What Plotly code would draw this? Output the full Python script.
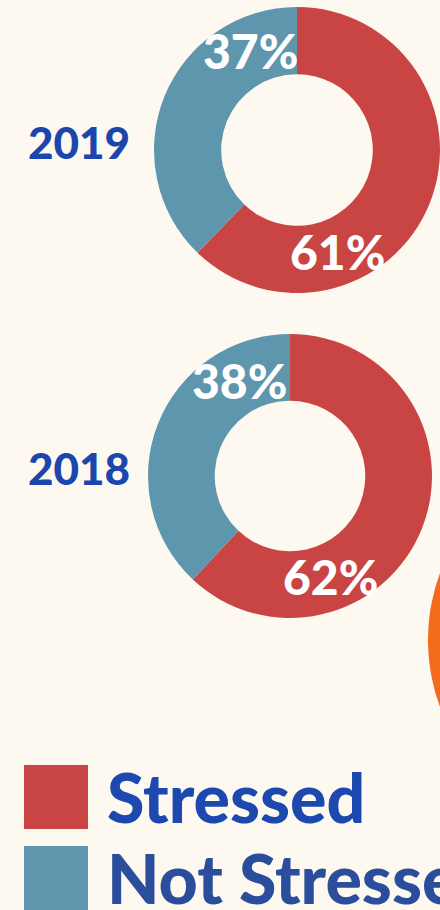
import math
import plotly.graph_objects as go

# Survey results by year
years = ["2019", "2018"]
categories = ["Stressed", "Not Stressed"]
stressed = [61, 62]
not_stressed = [37, 38]

colors = ["#c94543", "#5e96ae"]
W, H = 440, 910
BG = "#fdf9f0"
FONT = "Lato"

# donut geometry in pixels (center x, center y, outer radius)
donut_geom = [(297, 150, 143), (290, 476, 142)]
hole = 0.53
# angle (deg, clockwise from 12 o'clock) at which each value label sits
label_angles = [(158, -25), (158, -28)]


def px_x(x):
    return x / W


def px_y(y):
    return 1 - y / H


fig = go.Figure()
annotations = []
shapes = []

for i, year in enumerate(years):
    cx, cy, r = donut_geom[i]
    vals = [stressed[i], not_stressed[i]]
    fig.add_trace(go.Pie(
        labels=categories,
        values=vals,
        hole=hole,
        sort=False,
        direction="clockwise",
        rotation=0,
        marker=dict(colors=colors, line=dict(width=0)),
        textinfo="none",
        hoverinfo="label+value",
        showlegend=False,
        domain=dict(x=[px_x(cx - r), px_x(cx + r)],
                    y=[px_y(cy + r), px_y(cy - r)]),
    ))
    # value labels along the middle of the ring
    rmid = r * (1 + hole) / 2
    for v, ang in zip(vals, label_angles[i]):
        a = math.radians(ang)
        annotations.append(dict(
            x=px_x(cx + rmid * math.sin(a)), y=px_y(cy - rmid * math.cos(a)),
            xref="paper", yref="paper", text=f"{v}%", showarrow=False,
            font=dict(family=FONT, size=48, color="white", weight=900),
            xanchor="center", yanchor="middle",
        ))
    # year label to the left of each donut
    annotations.append(dict(
        x=px_x(79), y=px_y(cy - 8), xref="paper", yref="paper", text=year,
        showarrow=False, xanchor="center", yanchor="middle",
        font=dict(family=FONT, size=44, color="#1b46ad", weight=900),
    ))

# legend keys
legend_rows = [(796, "#1c48b0"), (877, "#2a4e9c")]
for (ly, tcol), cat, col in zip(legend_rows, categories, colors):
    shapes.append(dict(type="rect", xref="paper", yref="paper",
                       x0=px_x(24), x1=px_x(88), y0=px_y(ly + 33), y1=px_y(ly - 31),
                       fillcolor=col, line=dict(width=0)))
    annotations.append(dict(
        x=px_x(105), y=px_y(ly), xref="paper", yref="paper", text=cat,
        showarrow=False, xanchor="left", yanchor="middle",
        font=dict(family=FONT, size=68, color=tcol, weight=900),
    ))

# orange disc entering from the right edge
shapes.append(dict(type="circle", xref="paper", yref="paper",
                   x0=px_x(428), x1=px_x(814), y0=px_y(833), y1=px_y(447),
                   fillcolor="#f26b1d", line=dict(width=0), layer="below"))

fig.update_layout(
    width=W, height=H,
    margin=dict(l=0, r=0, t=0, b=0),
    paper_bgcolor=BG, plot_bgcolor=BG,
    annotations=annotations,
    shapes=shapes,
)

fig.write_html("out.html")
